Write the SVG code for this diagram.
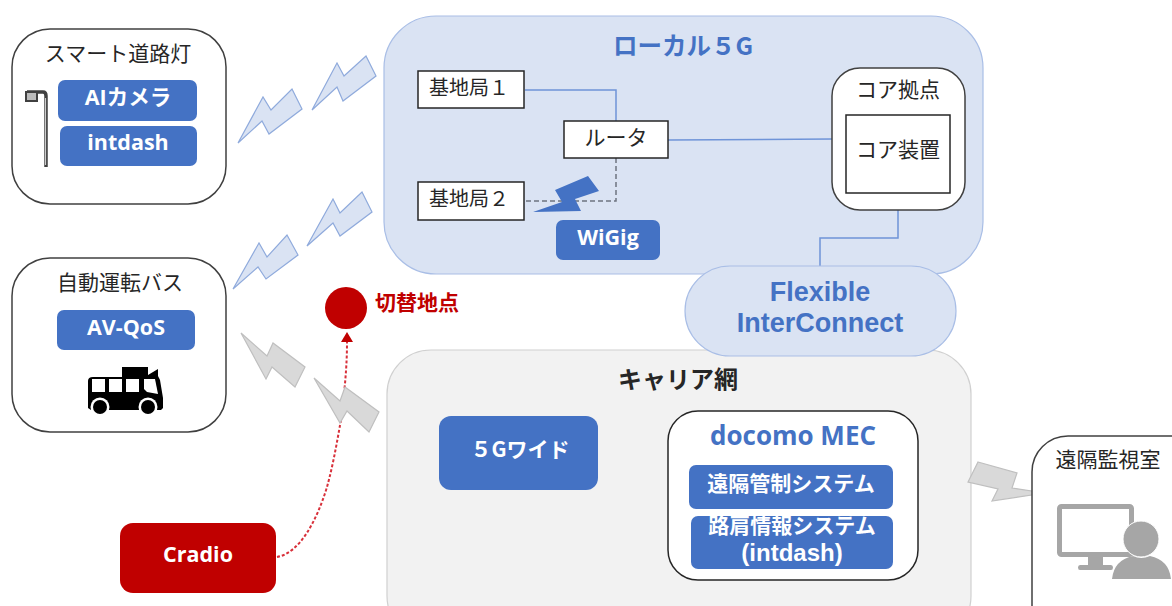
<svg xmlns="http://www.w3.org/2000/svg" width="1172" height="606" viewBox="0 0 1172 606">
<style>
text{font-family:"Noto Sans CJK JP","Liberation Sans",sans-serif;text-anchor:middle}
.lbl{font-size:21px;fill:#262626}
.st{font-size:20px;fill:#262626}
.w{font-size:21.500px;font-weight:700;fill:#fff;font-family:"Open Sans","Noto Sans CJK JP",sans-serif}
.j{font-size:21px;font-weight:700;fill:#fff}
.t{font-size:26px;font-weight:700;fill:#4472C4;font-family:"Open Sans","Noto Sans CJK JP",sans-serif}
.f{font-size:27px;font-weight:700;fill:#4472C4;font-family:"Liberation Sans",sans-serif}
.i{font-size:24px;font-weight:700;fill:#fff;font-family:"Liberation Sans",sans-serif}
.card{fill:#fff;stroke:#404040;stroke-width:1.5}
.blue{fill:#4472C4}
.bx{fill:#fff;stroke:#262626;stroke-width:1.5}
.bb{fill:#DAE3F3;stroke:#8FAADC;stroke-width:1.2}
.gb{fill:#D9D9D9;stroke:#BFBFBF;stroke-width:1.2}
.ln{fill:none;stroke:#6F94D8;stroke-width:1.5}
</style>
<rect width="1172" height="606" fill="#fff"/>

<g id="local5g">
<rect x="384" y="16" width="599" height="258" rx="52" fill="#DAE3F3" stroke="#A9BEE6" stroke-width="1.2"/>
<text x="683" y="55" font-size="24.500" font-weight="700" fill="#4472C4">ローカル５G</text>
</g>
<g id="carrier">
<rect x="387" y="350" width="584" height="290" rx="44" fill="#F2F2F2" stroke="#D0D0D0" stroke-width="1.2"/>
<text x="678" y="388" font-size="24" font-weight="700" fill="#262626">キャリア網</text>
</g>

<g id="connectors">
<path class="ln" d="M525 90H616V121"/>
<path class="ln" d="M668 140L832 139"/>
<path class="ln" d="M898 210V238H820V266"/>
<path d="M616 158V201H525" fill="none" stroke="#6E7480" stroke-width="1.5" stroke-dasharray="5 3"/>
<path d="M277 557C300 553 317 520 327 487C334 462 339 430 341 420C344 395 347 370 347 342" fill="none" stroke="#D8303A" stroke-width="2" stroke-dasharray="3 2"/>
<path d="M347 332L341 342H353Z" fill="#C00000"/>
</g>

<g id="flexible">
<rect x="685" y="266" width="271" height="90" rx="45" fill="#DAE3F3" stroke="#A9BEE6" stroke-width="1.2"/>
<text class="f" x="820" y="301">Flexible</text>
<text class="f" x="820" y="332">InterConnect</text>
</g>

<g id="streetlight">
<rect class="card" x="12" y="29" width="214" height="175" rx="38"/>
<text class="lbl" x="118" y="61">スマート道路灯</text>
<path d="M27 92H43Q46 92 46 96V167" fill="none" stroke="#404040" stroke-width="3.500"/>
<path d="M45.500 98V165" stroke="#ccc" stroke-width="1.200" fill="none"/>
<rect x="26" y="92" width="11" height="9" fill="#bbb" stroke="#404040" stroke-width="2"/>
<rect x="58" y="80" width="139" height="41" rx="7" class="blue"/>
<text class="w" x="128" y="105">AIカメラ</text>
<rect x="60" y="126" width="137" height="40" rx="7" class="blue"/>
<text class="w" x="128" y="150">intdash</text>
</g>

<g id="bus">
<rect class="card" x="12" y="258" width="214" height="174" rx="38"/>
<text class="lbl" x="120" y="290">自動運転バス</text>
<rect x="57" y="310" width="138" height="40" rx="7" class="blue"/>
<text class="w" x="126" y="335">AV-QoS</text>
<path d="M122 367H148V375L158 369V376L160 380L163 398V408L161 410H91L88 408V381Q88 377 93 377H122Z" fill="#000"/>
<g fill="#fff"><rect x="92" y="379" width="13" height="13"/><rect x="109" y="379" width="13" height="13"/><rect x="126" y="379" width="13" height="13"/><path d="M144 379H155L158 394L147 392L144 389Z"/></g>
<circle cx="100" cy="407" r="9.500" fill="#fff"/><circle cx="148" cy="407" r="9.500" fill="#fff"/>
<circle cx="100" cy="407" r="7" fill="#000"/><circle cx="148" cy="407" r="7" fill="#000"/>
</g>

<g id="bolts">
<path class="bb" d="M238 143L263 97L271 110L292 89L302 109L269 134L262 121Z"/>
<path class="bb" d="M312 110L337 63L344 76L366 56L376 76L343 101L337 87Z"/>
<path class="bb" d="M233 289L259 243L267 257L287 235L298 255L266 279L258 267Z"/>
<path class="bb" d="M307 246L333 199L340 213L362 192L372 212L340 236L333 223Z"/>
<path class="gb" d="M241 333L267 356L273 343L305 367L295 387L272 367L266 379Z"/>
<path class="gb" d="M314 378L340 401L345 387L379 412L369 432L347 411L340 423Z"/>
<path class="gb" d="M978 462L1017 473L1012 488L1045 493L992 501L998 489L968 482Z"/>
</g>

<g id="station1"><rect class="bx" x="418" y="71" width="106" height="37"/><text class="st" x="469" y="95">基地局１</text></g>
<g id="station2"><rect class="bx" x="418" y="182" width="106" height="38"/><text class="st" x="469" y="206">基地局２</text></g>
<g id="router"><rect class="bx" x="564" y="121" width="104" height="37"/><text class="lbl" x="616" y="145">ルータ</text></g>
<g id="wigig">
<path class="blue" d="M533 212L562 202L555 190L588 176L599 191L575 199L581 211Z"/>
<rect x="556" y="220" width="104" height="40" rx="7" class="blue"/>
<text class="w" x="608" y="245">WiGig</text>
</g>
<g id="core">
<rect class="card" x="832" y="68" width="133" height="142" rx="28"/>
<text class="lbl" x="898" y="97">コア拠点</text>
<rect class="bx" x="846" y="115" width="104" height="78"/>
<text class="lbl" x="898" y="157">コア装置</text>
</g>

<g id="switchpoint">
<circle cx="346" cy="308" r="21" fill="#C00000"/>
<text x="417" y="310" font-size="21" font-weight="700" fill="#C00000">切替地点</text>
</g>
<g id="cradio">
<rect x="120" y="523" width="156" height="70" rx="13" fill="#C00000"/>
<text class="w" x="198" y="562">Cradio</text>
</g>
<g id="wide5g">
<rect x="439" y="416" width="159" height="74" rx="12" class="blue"/>
<text class="j" x="520" y="457">５Gワイド</text>
</g>
<g id="mec">
<rect x="668" y="411" width="250" height="169" rx="30" fill="#fff" stroke="#262626" stroke-width="1.5"/>
<text class="t" x="793" y="445">docomo MEC</text>
<rect x="689" y="465" width="204" height="44" rx="7" class="blue"/>
<text class="j" x="791" y="491">遠隔管制システム</text>
<rect x="691" y="516" width="202" height="53" rx="7" class="blue"/>
<text class="j" x="792" y="533">路肩情報システム</text>
<text class="i" x="792" y="561">(intdash)</text>
</g>
<g id="monitor">
<rect class="card" x="1032" y="436" width="200" height="220" rx="36"/>
<text class="lbl" x="1108" y="467">遠隔監視室</text>
<rect x="1059.500" y="506.500" width="72" height="48" rx="2" fill="#fff" stroke="#A6A6A6" stroke-width="5"/>
<path d="M1088 557H1103V565H1111Q1113 565 1113 567.500Q1113 570 1111 570H1080Q1078 570 1078 567.500Q1078 565 1080 565H1088Z" fill="#A6A6A6"/>
<circle cx="1141" cy="539" r="18" fill="#A6A6A6" stroke="#fff" stroke-width="1"/>
<path d="M1112 579Q1114 560 1133 556Q1141 560 1150 556Q1169 560 1171 579Z" fill="#A6A6A6"/>
</g>
</svg>
